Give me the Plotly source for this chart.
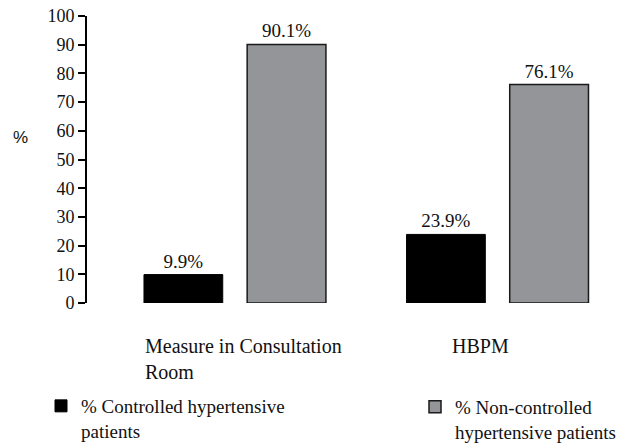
import plotly.graph_objects as go

# ---- data ----
categories = ["Measure in Consultation Room", "HBPM"]
category_labels = ["Measure in Consultation<br>Room", "HBPM"]
controlled = [9.9, 23.9]
non_controlled = [90.1, 76.1]
series_names = ["% Controlled hypertensive<br>patients",
                "% Non-controlled<br>hypertensive patients"]
y_ticks = [0, 10, 20, 30, 40, 50, 60, 70, 80, 90, 100]

SERIF = "Times New Roman, Liberation Serif, DejaVu Serif, serif"
SANS = "Arial, Liberation Sans, sans-serif"
W, H = 635, 443

fig = go.Figure()
fig.add_bar(
    x=categories, y=controlled, name=series_names[0],
    marker=dict(color="#000000", line=dict(color="#000000", width=1)),
    width=0.3, offset=-0.343,
    texttemplate="%{y}%", textposition="outside", constraintext="none",
    textfont=dict(family=SERIF, size=19, color="#111"),
    cliponaxis=False, legend="legend",
)
fig.add_bar(
    x=categories, y=non_controlled, name=series_names[1],
    marker=dict(color="#939598", line=dict(color="#1a1a1a", width=1.5)),
    width=0.3, offset=0.05,
    texttemplate="%{y}%", textposition="outside", constraintext="none",
    textfont=dict(family=SERIF, size=19, color="#111"),
    cliponaxis=False, legend="legend2",
)

annotations = [
    dict(text=category_labels[0], x=categories[0], xref="x", xshift=-91,
         y=-0.105, yref="paper", xanchor="left", yanchor="top", align="left",
         showarrow=False, font=dict(family=SERIF, size=20, color="#111")),
    dict(text=category_labels[1], x=categories[1], xref="x", xshift=-47,
         y=-0.105, yref="paper", xanchor="left", yanchor="top", align="left",
         showarrow=False, font=dict(family=SERIF, size=20, color="#111")),
    dict(text="%", x=(20 - 87) / 533, xref="paper", y=0.578, yref="paper",
         xanchor="center", yanchor="middle", showarrow=False,
         font=dict(family=SANS, size=17, color="#111")),
]

legend_common = dict(
    xref="container", yref="container", xanchor="left", yanchor="top",
    font=dict(family=SERIF, size=19, color="#111"), valign="top",
    bgcolor="rgba(0,0,0,0)", borderwidth=0, itemclick=False,
    itemdoubleclick=False,
)

fig.update_layout(
    width=W, height=H, autosize=False,
    margin=dict(l=87, r=15, t=16, b=140, autoexpand=False),
    paper_bgcolor="white", plot_bgcolor="white",
    barmode="overlay",
    xaxis=dict(range=[-0.56, 1.47], showline=False, showticklabels=False,
               ticks="", showgrid=False, zeroline=False),
    yaxis=dict(range=[0, 100], tickvals=y_ticks, showline=True, linewidth=2,
               linecolor="#000", ticks="outside", ticklen=7, tickwidth=2,
               tickcolor="#000", showgrid=False, zeroline=False,
               tickfont=dict(family=SERIF, size=18, color="#111")),
    legend=dict(x=41 / W, y=1 - 387 / H, **legend_common),
    legend2=dict(x=415 / W, y=1 - 388 / H, **legend_common),
    annotations=annotations,
    showlegend=True,
)

fig.write_html(
    "out.html",
    config={"displayModeBar": False},
    post_script="document.body.style.margin='0';document.body.style.overflow='hidden';",
)
